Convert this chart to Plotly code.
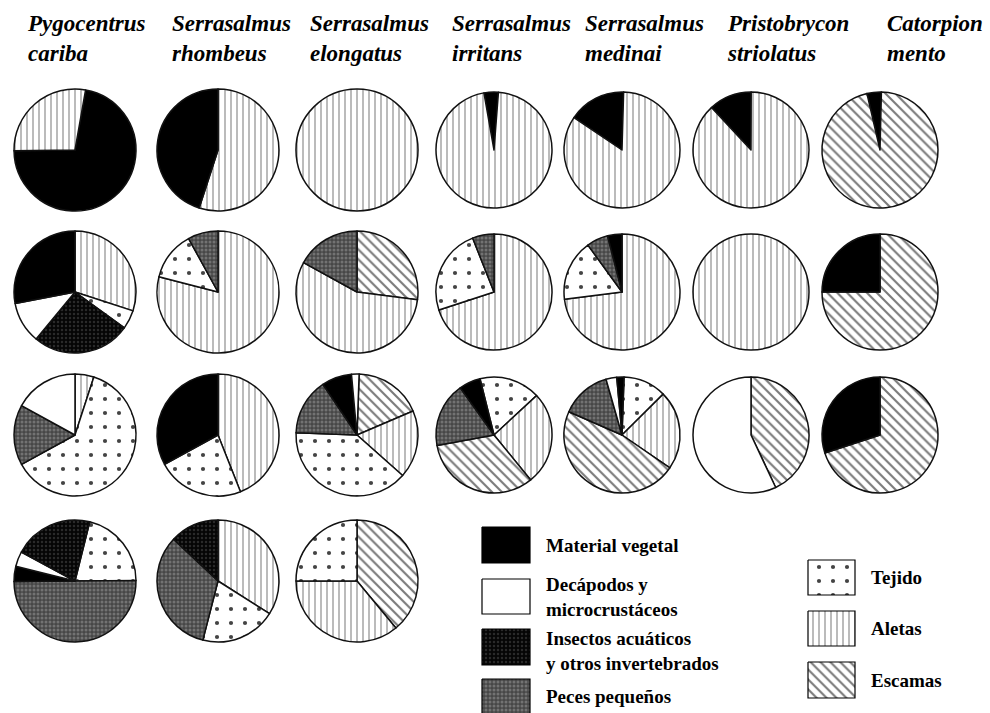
import plotly.graph_objects as go

W, H = 990, 713

# ---------------- data ----------------
species = ["Pygocentrus<br>cariba", "Serrasalmus<br>rhombeus", "Serrasalmus<br>elongatus",
           "Serrasalmus<br>irritans", "Serrasalmus<br>medinai", "Pristobrycon<br>striolatus",
           "Catorpion<br>mento"]

VEG = "Material vegetal"
DEC = "Decápodos y microcrustáceos"
INS = "Insectos acuáticos y otros invertebrados"
PEC = "Peces pequeños"
TEJ = "Tejido"
ALE = "Aletas"
ESC = "Escamas"
categories = [VEG, DEC, INS, PEC, TEJ, ALE, ESC]

# slices listed clockwise; values in %
row1_labels = [[VEG, ALE], [ALE, VEG], [ALE], [VEG, ALE], [VEG, ALE], [VEG, ALE], [VEG, ESC]]
row1_values = [[72, 28], [55, 45], [100], [4, 96], [16, 84], [12, 88], [4, 96]]

row2_labels = [[ALE, TEJ, INS, DEC, VEG], [ALE, TEJ, PEC], [ESC, ALE, PEC], [ALE, TEJ, PEC],
               [ALE, TEJ, PEC, VEG], [ALE], [ESC, VEG]]
row2_values = [[30, 5, 26, 11, 28], [79, 13, 8], [27, 56, 17], [70, 24, 6],
               [73, 17, 6, 4], [100], [75, 25]]

row3_labels = [[ALE, TEJ, PEC, DEC], [ALE, TEJ, VEG], [ESC, ALE, TEJ, PEC, VEG, DEC],
               [TEJ, ALE, ESC, PEC, VEG], [TEJ, ALE, ESC, PEC, DEC, VEG], [ESC, DEC], [ESC, VEG]]
row3_values = [[5, 62, 16, 17], [44, 23, 33], [18, 18, 39, 15, 8, 2],
               [17, 26, 33, 18, 6], [12, 22, 47, 14, 3, 2], [43, 57], [70, 30]]

row4_labels = [[TEJ, PEC, VEG, DEC, INS], [ALE, TEJ, PEC, INS], [ESC, ALE, TEJ]]
row4_values = [[21, 50, 4, 4, 21], [34, 20, 33, 13], [39, 36, 25]]

# ---------------- layout / style ----------------
row1_start = [10, 0, 0, -10, -56, -43, -13]
row2_start = [0, 0, 0, 0, 0, 0, 0]
row3_start = [0, 0, 2, -14, 2, 0, 0]
row4_start = [14, 0, 0]

col_cx = [75, 218, 357, 494, 622, 751, 880]
col_r = [61, 61, 61, 58, 58, 58, 58]
row_cy = [150, 292, 435, 581]

style = {
    VEG: dict(shape="", bg="#000000", fg="#000000", size=8, sol=0.3),
    DEC: dict(shape="", bg="#ffffff", fg="#ffffff", size=8, sol=0.3),
    INS: dict(shape=".", bg="#050505", fg="#2a2a2a", size=4, sol=0.3),
    PEC: dict(shape=".", bg="#474747", fg="#737373", size=4, sol=0.45),
    TEJ: dict(shape=".", bg="#ffffff", fg="#444444", size=14, sol=0.07),
    ALE: dict(shape="|", bg="#ffffff", fg="#b4b4b4", size=6, sol=0.3),
    ESC: dict(shape="\\", bg="#ffffff", fg="#7a7a7a", size=7, sol=0.3),
}

fig = go.Figure()


def add_pie(labels, values, start, cx, cy, r):
    st = [style[l] for l in labels]
    fig.add_trace(go.Pie(
        labels=labels, values=values, sort=False, direction="clockwise", rotation=start,
        textinfo="none", hoverinfo="label+percent", showlegend=False,
        domain=dict(x=[(cx - r) / W, (cx + r) / W], y=[1 - (cy + r) / H, 1 - (cy - r) / H]),
        marker=dict(
            colors=[s["bg"] for s in st],
            line=dict(color="#111111", width=1.5),
            pattern=dict(shape=[s["shape"] for s in st], bgcolor=[s["bg"] for s in st],
                         fgcolor=[s["fg"] for s in st], size=[s["size"] for s in st],
                         solidity=[s["sol"] for s in st], fillmode="replace"),
        ),
    ))


rows = [(row1_labels, row1_values, row1_start), (row2_labels, row2_values, row2_start),
        (row3_labels, row3_values, row3_start), (row4_labels, row4_values, row4_start)]
for ri, (labs, vals, starts) in enumerate(rows):
    for ci in range(len(labs)):
        add_pie(labs[ci], vals[ci], starts[ci], col_cx[ci], row_cy[ri], col_r[ci])

# headers
header_x = [25, 170, 308, 450, 583, 725, 885]
annotations = []
for x, name in zip(header_x, species):
    a, b = name.split("<br>")
    annotations.append(dict(
        text=f"<b><i>{a}</i></b><br><b><i>{b}</i></b>", x=x / W, y=1 - 9 / H,
        xref="paper", yref="paper", xanchor="left", yanchor="top", align="left",
        showarrow=False, font=dict(family="Liberation Serif", size=23, color="black")))

# legend swatches
legend_items = [
    (VEG, 482, 527, 530, 563, "Material vegetal", 544, 545),
    (DEC, 482, 579, 530, 614, "Decápodos y<br>microcrustáceos", 544, 597),
    (INS, 482, 629, 530, 665, "Insectos acuáticos<br>y otros invertebrados", 544, 651),
    (PEC, 482, 679, 530, 716, "Peces pequeños", 544, 696),
    (TEJ, 808, 560, 855, 595, "Tejido", 869, 577),
    (ALE, 808, 611, 855, 646, "Aletas", 869, 628),
    (ESC, 808, 662, 855, 698, "Escamas", 869, 680),
]
for cat, x0, y0, x1, y1, txt, tx, ty in legend_items:
    s = style[cat]
    fig.add_trace(go.Scatter(
        x=[x0, x1, x1, x0, x0], y=[y0, y0, y1, y1, y0], mode="lines", fill="toself",
        line=dict(color="black", width=1.2), showlegend=False, hoverinfo="skip",
        fillcolor=s["bg"],
        fillpattern=dict(shape=s["shape"], bgcolor=s["bg"], fgcolor=s["fg"],
                         size=s["size"], solidity=s["sol"], fillmode="replace"),
    ))
    annotations.append(dict(
        text=f"<b>{txt}</b>", x=tx, y=ty, xref="x", yref="y", xanchor="left",
        yanchor="middle", align="left", showarrow=False,
        font=dict(family="Liberation Serif", size=19, color="black")))

fig.update_layout(
    width=W, height=H, margin=dict(l=0, r=0, t=0, b=0),
    paper_bgcolor="white", plot_bgcolor="rgba(0,0,0,0)",
    xaxis=dict(range=[0, W], visible=False, fixedrange=True, domain=[0, 1]),
    yaxis=dict(range=[H, 0], visible=False, fixedrange=True, domain=[0, 1]),
    annotations=annotations,
)

fig.write_html("out.html", config={"displayModeBar": False},
               post_script="document.body.style.margin='0';")
